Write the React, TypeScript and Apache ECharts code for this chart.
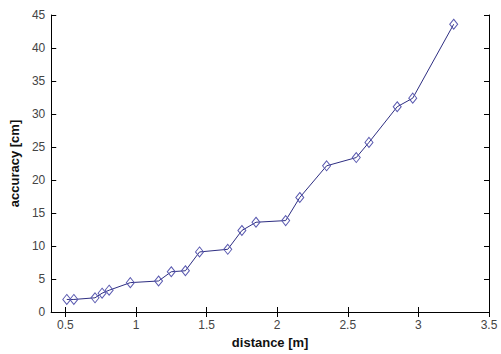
import React, { useEffect, useRef } from "react";
import * as echarts from "echarts";

const distance = [0.51, 0.56, 0.71, 0.76, 0.81, 0.96, 1.16, 1.25, 1.35, 1.45, 1.65, 1.75, 1.85, 2.06, 2.16, 2.35, 2.56, 2.65, 2.85, 2.96, 3.25];
const accuracy = [1.9, 1.9, 2.15, 2.85, 3.3, 4.45, 4.7, 6.1, 6.25, 9.1, 9.5, 12.35, 13.6, 13.85, 17.35, 22.15, 23.4, 25.7, 31.1, 32.4, 43.6];
const xTicks = [0.5, 1, 1.5, 2, 2.5, 3, 3.5];

export default function App() {
  const ref = useRef<HTMLDivElement>(null);
  useEffect(() => {
    document.body.style.margin = "0";
    const chart = echarts.init(ref.current!, null, { renderer: "svg" });
    const font = "Liberation Sans, Arial, sans-serif";
    const axisLine = { show: true, lineStyle: { color: "#000", width: 1 } };
    const tick = { show: true, inside: true, length: 5, lineStyle: { color: "#000" } };
    const labelStyle = { color: "#444", fontSize: 12, fontFamily: font };
    const nameStyle = { color: "#111", fontSize: 13, fontWeight: "bold", fontFamily: font };
    chart.setOption({
      animation: false,
      backgroundColor: "#fff",
      grid: { left: 51, top: 15, right: 12, bottom: 34, containLabel: false },
      xAxis: [
        {
          type: "value",
          min: 0.4,
          max: 3.5,
          position: "bottom",
          axisLine,
          axisTick: { ...tick, customValues: xTicks },
          axisLabel: { ...labelStyle, customValues: xTicks, margin: 7 },
          splitLine: { show: false },
          name: "distance [m]",
          nameLocation: "middle",
          nameGap: 24,
          nameTextStyle: nameStyle,
        },
        {
          type: "value",
          min: 0.4,
          max: 3.5,
          position: "top",
          axisLine,
          axisTick: { ...tick, customValues: xTicks },
          axisLabel: { show: false, customValues: xTicks },
          splitLine: { show: false },
        },
      ],
      yAxis: [
        {
          type: "value",
          min: 0,
          max: 45,
          interval: 5,
          position: "left",
          axisLine,
          axisTick: tick,
          axisLabel: { ...labelStyle, margin: 6 },
          splitLine: { show: false },
          name: "accuracy [cm]",
          nameLocation: "middle",
          nameGap: 20,
          nameTextStyle: nameStyle,
        },
        {
          type: "value",
          min: 0,
          max: 45,
          interval: 5,
          position: "right",
          axisLine,
          axisTick: tick,
          axisLabel: { show: false },
          splitLine: { show: false },
        },
      ],
      series: [
        {
          type: "line",
          xAxisIndex: 0,
          yAxisIndex: 0,
          data: distance.map((d, i) => [d, accuracy[i]]),
          lineStyle: { color: "#2e2e82", width: 1 },
          symbol: "diamond",
          symbolSize: [8, 10],
          itemStyle: { color: "rgba(255,255,255,0)", borderColor: "#5a5ab0", borderWidth: 1 },
          emphasis: { disabled: true },
        },
      ],
    });
    return () => chart.dispose();
  }, []);
  return <div ref={ref} style={{ width: 501, height: 354 }} />;
}
